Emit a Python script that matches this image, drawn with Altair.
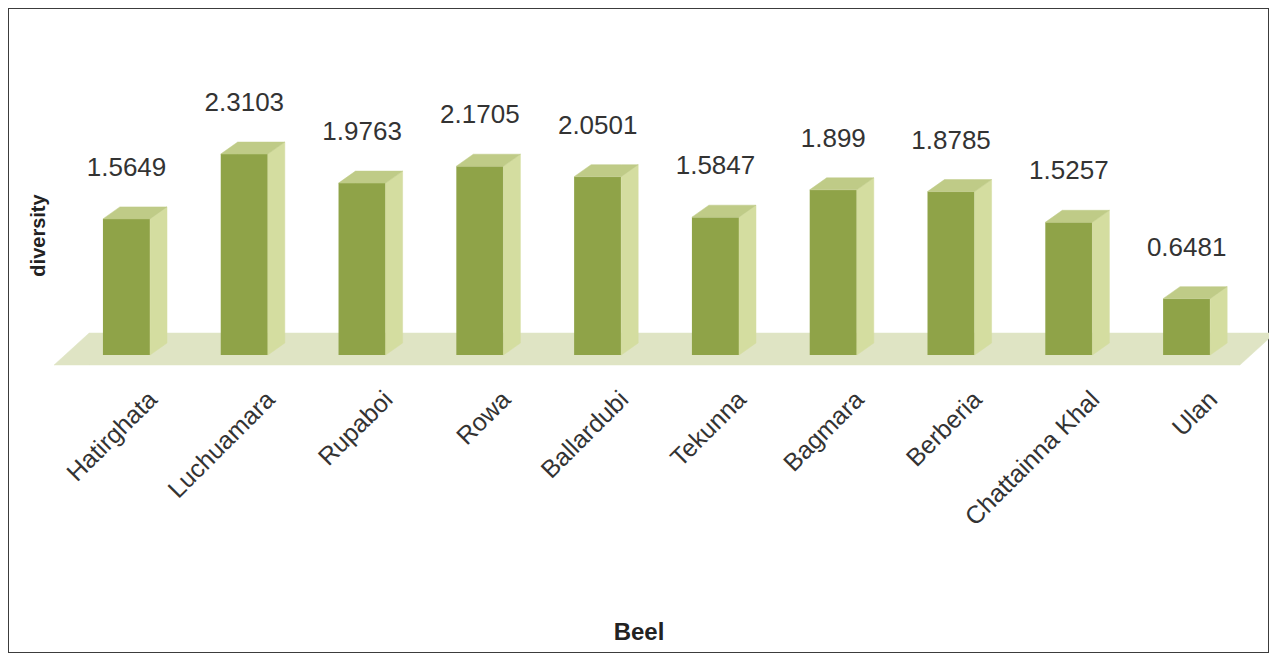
import json
import altair as alt
import pandas as pd

# ---- data ----
categories = ["Hatirghata", "Luchuamara", "Rupaboi", "Rowa", "Ballardubi",
              "Tekunna", "Bagmara", "Berberia", "Chattainna Khal", "Ulan"]
values = [1.5649, 2.3103, 1.9763, 2.1705, 2.0501, 1.5847, 1.899, 1.8785, 1.5257, 0.6481]

# ---- style constants (3-D look) ----
HALF_W = 0.2        # half bar width (in category units)
DX = 0.144          # depth offset along x
DY = 0.138          # depth offset along y (value units)
X_DOMAIN = [-1.006, 9.699]
Y_DOMAIN = [-3.425, 3.989]
FLOOR_FRONT, FLOOR_BACK = -0.115, 0.253
FLOOR_LEFT_PAD, FLOOR_RIGHT_PAD, FLOOR_SLANT = 0.615, 0.452, 0.298

FRONT = "#8FA348"
SIDE = "#D4DDA0"
TOP = "#BFCB87"
FLOOR = "#DFE4C4"

idx = list(range(len(categories)))

front_df = pd.DataFrame({
    "name": categories,
    "i": idx,
    "x0": [i - HALF_W for i in idx],
    "x1": [i + HALF_W for i in idx],
    "v": values,
    "label": [str(v) for v in values],
})

side_rows, top_rows = [], []
for i, (c, v) in enumerate(zip(categories, values)):
    side_rows += [
        {"name": c, "x": i + HALF_W, "lo": 0.0, "hi": v},
        {"name": c, "x": i + HALF_W + DX, "lo": DY, "hi": v + DY},
    ]
    top_rows += [
        {"name": c, "x": i - HALF_W, "lo": v, "hi": v},
        {"name": c, "x": i - HALF_W + DX, "lo": v, "hi": v + DY},
        {"name": c, "x": i + HALF_W, "lo": v, "hi": v + DY},
        {"name": c, "x": i + HALF_W + DX, "lo": v + DY, "hi": v + DY},
    ]
side_df = pd.DataFrame(side_rows)
top_df = pd.DataFrame(top_rows)

first, last = idx[0], idx[-1]
floor_df = pd.DataFrame([
    {"x": first - FLOOR_LEFT_PAD, "lo": FLOOR_FRONT, "hi": FLOOR_FRONT},
    {"x": first - FLOOR_LEFT_PAD + FLOOR_SLANT, "lo": FLOOR_FRONT, "hi": FLOOR_BACK},
    {"x": last + FLOOR_RIGHT_PAD, "lo": FLOOR_FRONT, "hi": FLOOR_BACK},
    {"x": last + FLOOR_RIGHT_PAD + FLOOR_SLANT, "lo": FLOOR_BACK, "hi": FLOOR_BACK},
])

label_expr = json.dumps(categories) + "[datum.value]"

x_axis = alt.Axis(
    values=idx, labelExpr=label_expr, labelAngle=-45, labelAlign="right",
    labelBaseline="middle", labelFontSize=25, labelFont="Liberation Sans",
    labelColor="#333333", labelOffset=26, labelPadding=0, labelLimit=0,
    labelOverlap=False, labelFlush=False, labelBound=False,
    offset=-258, ticks=False, domain=False, grid=False,
    title="Beel", titleFontSize=24, titleFont="Liberation Sans",
    titleFontWeight="bold", titleColor="#222222", titleY=237,
    titleBaseline="middle",
)
y_axis = alt.Axis(
    labels=False, ticks=False, domain=False, grid=False,
    title="diversity", titleFontSize=20, titleFont="Liberation Sans",
    titleFontWeight="bold", titleColor="#222222", titleX=30, titleY=227,
    titleBaseline="middle", titleAlign="center",
)
xs = alt.Scale(domain=X_DOMAIN, nice=False, zero=False)
ys = alt.Scale(domain=Y_DOMAIN, nice=False, zero=False)

floor = alt.Chart(floor_df).mark_area(
    color=FLOOR, clip=True, interpolate="linear", stroke=FLOOR, strokeWidth=0.5
).encode(
    x=alt.X("x:Q", scale=xs, axis=x_axis),
    y=alt.Y("lo:Q", scale=ys, axis=y_axis),
    y2="hi:Q",
)

fronts = alt.Chart(front_df).mark_rect(color=FRONT).encode(
    x=alt.X("x0:Q", scale=xs, axis=x_axis),
    x2="x1:Q",
    y=alt.Y("v:Q", scale=ys, axis=y_axis),
    y2=alt.Y2(datum=0),
)

sides = alt.Chart(side_df).mark_area(
    color=SIDE, interpolate="linear", stroke=SIDE, strokeWidth=0.5
).encode(
    x=alt.X("x:Q", scale=xs, axis=x_axis),
    y=alt.Y("lo:Q", scale=ys, axis=y_axis),
    y2="hi:Q",
    detail="name:N",
)

tops = alt.Chart(top_df).mark_area(
    color=TOP, interpolate="linear", stroke=TOP, strokeWidth=0.5
).encode(
    x=alt.X("x:Q", scale=xs, axis=x_axis),
    y=alt.Y("lo:Q", scale=ys, axis=y_axis),
    y2="hi:Q",
    detail="name:N",
)

texts = alt.Chart(front_df).mark_text(
    dy=-51, fontSize=26, font="Liberation Sans", color="#333333", baseline="middle"
).encode(
    x=alt.X("i:Q", scale=xs, axis=x_axis),
    y=alt.Y("v:Q", scale=ys, axis=y_axis),
    text="label:N",
)

chart = alt.layer(floor, fronts, sides, tops, texts).properties(
    width=1261, height=645, background="#F3F6E6", padding=0
).configure_view(
    fill="white", stroke="#3C3C3C", strokeWidth=2
)

chart.save("out.html", embed_options={"renderer": "svg", "actions": False})
